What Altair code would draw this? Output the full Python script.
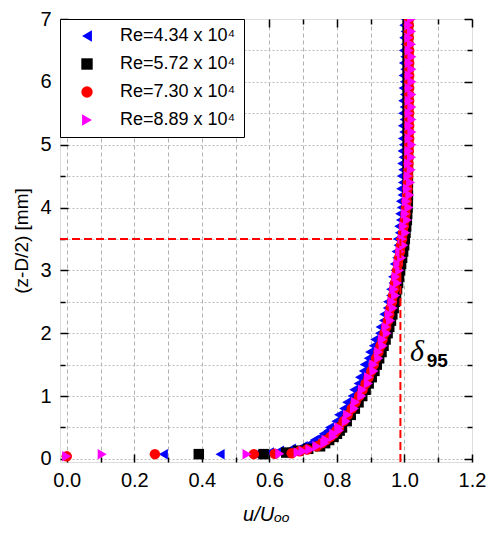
import altair as alt
import pandas as pd

SERIES = ["Re=4.34 x 10⁴", "Re=5.72 x 10⁴", "Re=7.30 x 10⁴", "Re=8.89 x 10⁴"]
COLORS = ["#0000ff", "#000000", "#ff0000", "#ff00ff"]
SHAPES = ["triangle-left", "square", "circle", "triangle-right"]

# near-wall points of each series
BLUE_WALL_Z = [0.075, 0.075, 0.075, 0.10, 0.13, 0.16]
BLUE_WALL_U = [0.286, 0.454, 0.560, 0.600, 0.630, 0.665]
BLACK_WALL_Z = [0.075, 0.075, 0.10, 0.13, 0.16]
BLACK_WALL_U = [0.391, 0.583, 0.650, 0.685, 0.715]
RED_WALL_Z = [0.04, 0.075, 0.075, 0.08, 0.09, 0.12, 0.15]
RED_WALL_U = [0.0, 0.261, 0.554, 0.616, 0.666, 0.690, 0.712]
MAG_WALL_Z = [0.04, 0.075, 0.075, 0.08, 0.10, 0.12, 0.15]
MAG_WALL_U = [0.0, 0.105, 0.534, 0.631, 0.685, 0.700, 0.720]

# profile heights (mm) shared by the four series
PROFILE_Z = [0.2, 0.25, 0.3, 0.35, 0.4, 0.45, 0.5,
             0.6, 0.7, 0.8, 0.9, 1.0,
             1.1, 1.2, 1.3, 1.4, 1.5, 1.6, 1.7, 1.8, 1.9, 2.0,
             2.1, 2.2, 2.3, 2.4, 2.5, 2.6, 2.7, 2.8, 2.9, 3.0,
             3.1, 3.2, 3.3, 3.4, 3.5, 3.6, 3.7, 3.8, 3.9, 4.0,
             4.1, 4.2, 4.3, 4.4, 4.5, 4.6, 4.7, 4.8, 4.9, 5.0,
             5.1, 5.2, 5.3, 5.4, 5.5, 5.6, 5.7, 5.8, 5.9, 6.0,
             6.1, 6.2, 6.3, 6.4, 6.5, 6.6, 6.7, 6.8, 6.9, 7.0]

BLUE_U = [0.700, 0.722, 0.733, 0.752, 0.760, 0.774, 0.778,
          0.797, 0.805, 0.820, 0.829, 0.845,
          0.850, 0.863, 0.867, 0.878, 0.881, 0.893, 0.897, 0.908, 0.912, 0.926,
          0.928, 0.938, 0.939, 0.949, 0.950, 0.959, 0.959, 0.966, 0.965, 0.972,
          0.970, 0.977, 0.975, 0.981, 0.979, 0.985, 0.983, 0.988, 0.986, 0.991,
          0.988, 0.993, 0.989, 0.994, 0.991, 0.995, 0.992, 0.996, 0.993, 0.997,
          0.994, 0.998, 0.994, 0.999, 0.995, 0.999, 0.995, 1.000, 0.996, 1.000,
          0.996, 1.001, 0.997, 1.001, 0.997, 1.002, 0.998, 1.002, 0.998, 1.002]
BLACK_U = [0.750, 0.765, 0.777, 0.790, 0.800, 0.808, 0.815,
           0.829, 0.841, 0.853, 0.864, 0.875,
           0.885, 0.894, 0.903, 0.911, 0.918, 0.925, 0.932, 0.938, 0.944, 0.950,
           0.955, 0.960, 0.964, 0.968, 0.972, 0.975, 0.978, 0.981, 0.984, 0.987,
           0.990, 0.993, 0.996, 0.999, 1.001, 1.003, 1.005, 1.007, 1.008, 1.009,
           1.010, 1.010, 1.010, 1.010, 1.010, 1.010, 1.010, 1.010, 1.010, 1.010,
           1.010, 1.010, 1.010, 1.010, 1.010, 1.010, 1.010, 1.010, 1.010, 1.010,
           1.010, 1.010, 1.010, 1.010, 1.010, 1.010, 1.010, 1.010, 1.010, 1.010]
RED_U = [0.741, 0.756, 0.768, 0.781, 0.791, 0.799, 0.806,
         0.820, 0.832, 0.844, 0.855, 0.866,
         0.876, 0.885, 0.894, 0.902, 0.909, 0.916, 0.923, 0.929, 0.935, 0.941,
         0.946, 0.951, 0.955, 0.959, 0.963, 0.966, 0.969, 0.972, 0.975, 0.978,
         0.981, 0.984, 0.987, 0.990, 0.993, 0.996, 0.998, 1.001, 1.003, 1.005,
         1.006, 1.008, 1.009, 1.010, 1.011, 1.012, 1.012, 1.013, 1.013, 1.014,
         1.014, 1.014, 1.014, 1.014, 1.014, 1.014, 1.014, 1.014, 1.014, 1.014,
         1.014, 1.014, 1.014, 1.014, 1.014, 1.013, 1.013, 1.013, 1.013, 1.013]
MAG_U = [0.741, 0.764, 0.768, 0.789, 0.791, 0.807, 0.806,
         0.828, 0.832, 0.852, 0.855, 0.874,
         0.876, 0.893, 0.894, 0.910, 0.909, 0.924, 0.923, 0.937, 0.935, 0.949,
         0.946, 0.959, 0.955, 0.967, 0.963, 0.974, 0.969, 0.980, 0.975, 0.986,
         0.981, 0.992, 0.987, 0.998, 0.993, 1.004, 0.998, 1.009, 1.003, 1.013,
         1.006, 1.016, 1.009, 1.018, 1.011, 1.020, 1.012, 1.021, 1.013, 1.022,
         1.014, 1.022, 1.014, 1.022, 1.014, 1.022, 1.014, 1.022, 1.014, 1.022,
         1.014, 1.022, 1.014, 1.022, 1.014, 1.021, 1.013, 1.021, 1.013, 1.021]

# delta_95 guide lines
GUIDE_X1 = [-0.02, 0.988]
GUIDE_X2 = [0.983, 0.988]
GUIDE_Y1 = [3.5, -0.05]
GUIDE_Y2 = [3.5, 3.5]

X_MAJOR = [0.0, 0.2, 0.4, 0.6, 0.8, 1.0, 1.2]
X_MINOR = [0.1, 0.3, 0.5, 0.7, 0.9, 1.1]
X_GRID = [0.0, 0.1, 0.2, 0.3, 0.4, 0.5, 0.6, 0.7, 0.8, 0.9, 1.0, 1.1]
Y_MAJOR = [0, 1, 2, 3, 4, 5, 6, 7]
Y_MINOR = [0.5, 1.5, 2.5, 3.5, 4.5, 5.5, 6.5]
Y_GRID = [0, 0.5, 1, 1.5, 2, 2.5, 3, 3.5, 4, 4.5, 5, 5.5, 6, 6.5]

rows = []
for k, (name, wz, wu, bu) in enumerate([
    (SERIES[0], BLUE_WALL_Z, BLUE_WALL_U, BLUE_U),
    (SERIES[1], BLACK_WALL_Z, BLACK_WALL_U, BLACK_U),
    (SERIES[2], RED_WALL_Z, RED_WALL_U, RED_U),
    (SERIES[3], MAG_WALL_Z, MAG_WALL_U, MAG_U),
]):
    for z, u in zip(wz + PROFILE_Z, wu + bu):
        rows.append({"series": name, "u": u, "z": z, "ord": k})
df = pd.DataFrame(rows)

guides = pd.DataFrame({"x1": GUIDE_X1, "x2": GUIDE_X2, "y1": GUIDE_Y1, "y2": GUIDE_Y2})
dummy = pd.DataFrame({"u": [0.5], "z": [3.0]})
delta_df = pd.DataFrame({"u": [1.037], "z": [1.70], "t": ["δ"]})
sub_df = pd.DataFrame({"u": [1.097], "z": [1.55], "t": ["95"]})

FONT = "Liberation Sans"
xs = alt.Scale(domain=[-0.02, 1.2], nice=False, zero=False)
ys = alt.Scale(domain=[-0.05, 7], nice=False, zero=False)


def tick_axis(orient, values, size):
    return alt.Axis(orient=orient, values=values, ticks=True, tickSize=size,
                    tickWidth=1.5, tickColor="black", labels=False, domain=False,
                    grid=False, offset=-size, title=None)


grid = alt.Chart(dummy).mark_point(opacity=0).encode(
    x=alt.X("u:Q", scale=xs, axis=alt.Axis(orient="bottom", values=X_GRID, grid=True,
            gridColor="#b0b0b0", gridDash=[4, 3], gridWidth=1, ticks=False,
            labels=False, domain=False, title=None)),
    y=alt.Y("z:Q", scale=ys, axis=alt.Axis(orient="left", values=Y_GRID, grid=True,
            gridColor="#bdbdbd", gridDash=[2, 2], gridWidth=1, ticks=False,
            labels=False, domain=False, title=None)),
)

points = alt.Chart(df).mark_point(filled=True, size=110, opacity=1, strokeWidth=0, clip=True).encode(
    x=alt.X("u:Q", scale=xs, axis=alt.Axis(orient="bottom", values=X_MAJOR, format=".1f",
            ticks=False, domain=False, grid=False, labelPadding=8, labelFontSize=20,
            labelFont=FONT, labelColor="black", labelFlush=False, labelOverlap=False,
            title="u/Uₒₒ", titleFont=FONT, titleFontSize=20, titleFontStyle="italic",
            titleFontWeight="normal", titleColor="black", titlePadding=14)),
    y=alt.Y("z:Q", scale=ys, axis=alt.Axis(orient="left", values=Y_MAJOR, format="d",
            ticks=False, domain=False, grid=False, labelPadding=9, labelFontSize=20,
            labelFont=FONT, labelColor="black", labelFlush=False, labelOverlap=False,
            title="(z-D/2) [mm]", titleFont=FONT, titleFontSize=19,
            titleFontWeight="normal", titleColor="black", titlePadding=8)),
    color=alt.Color("series:N", sort=SERIES,
                    scale=alt.Scale(domain=SERIES, range=COLORS),
                    legend=alt.Legend(title=None, orient="none", legendX=0, legendY=0,
                                      fillColor="white", strokeColor="black",
                                      padding=8, rowPadding=10, symbolSize=130,
                                      symbolOffset=10, labelOffset=24,
                                      labelFontSize=18, labelFont=FONT,
                                      labelColor="black", symbolStrokeWidth=0,
                                      labelLimit=300)),
    shape=alt.Shape("series:N", sort=SERIES,
                    scale=alt.Scale(domain=SERIES, range=SHAPES)),
    order=alt.Order("ord:Q"),
)

rules = alt.Chart(guides).mark_rule(color="#ff0000", strokeWidth=2, strokeDash=[8, 4]).encode(
    x=alt.X("x1:Q", scale=xs, axis=None),
    x2="x2:Q",
    y=alt.Y("y1:Q", scale=ys, axis=None),
    y2="y2:Q",
)

delta = alt.Chart(delta_df).mark_text(font="Liberation Serif", fontStyle="italic",
                                      fontSize=30, color="black").encode(
    x=alt.X("u:Q", scale=xs, axis=None), y=alt.Y("z:Q", scale=ys, axis=None), text="t:N")
sub = alt.Chart(sub_df).mark_text(font=FONT, fontWeight="bold", fontSize=19,
                                  color="black").encode(
    x=alt.X("u:Q", scale=xs, axis=None), y=alt.Y("z:Q", scale=ys, axis=None), text="t:N")

ticks_a = alt.Chart(dummy).mark_point(opacity=0).encode(
    x=alt.X("u:Q", scale=xs, axis=tick_axis("bottom", X_MAJOR, 8)),
    y=alt.Y("z:Q", scale=ys, axis=tick_axis("left", Y_MAJOR, 8)))
ticks_b = alt.Chart(dummy).mark_point(opacity=0).encode(
    x=alt.X("u:Q", scale=xs, axis=tick_axis("bottom", X_MINOR, 5)),
    y=alt.Y("z:Q", scale=ys, axis=tick_axis("left", Y_MINOR, 5)))
ticks_c = alt.Chart(dummy).mark_point(opacity=0).encode(
    x=alt.X("u:Q", scale=xs, axis=tick_axis("top", X_MAJOR, 8)),
    y=alt.Y("z:Q", scale=ys, axis=tick_axis("right", Y_MAJOR, 8)))
ticks_d = alt.Chart(dummy).mark_point(opacity=0).encode(
    x=alt.X("u:Q", scale=xs, axis=tick_axis("top", X_MINOR, 5)),
    y=alt.Y("z:Q", scale=ys, axis=tick_axis("right", Y_MINOR, 5)))

chart = alt.layer(grid, points, rules, delta, sub, ticks_a, ticks_b, ticks_c, ticks_d).resolve_axis(
    x="independent", y="independent"
).properties(
    width=412, height=443,
    autosize=alt.AutoSizeParams(type="none"),
    padding={"left": 52, "top": 11, "right": 14, "bottom": 67},
).configure_view(stroke="black", strokeWidth=1.5).configure(background="white")

chart.save("out.html", embed_options={"renderer": "svg", "actions": False})
